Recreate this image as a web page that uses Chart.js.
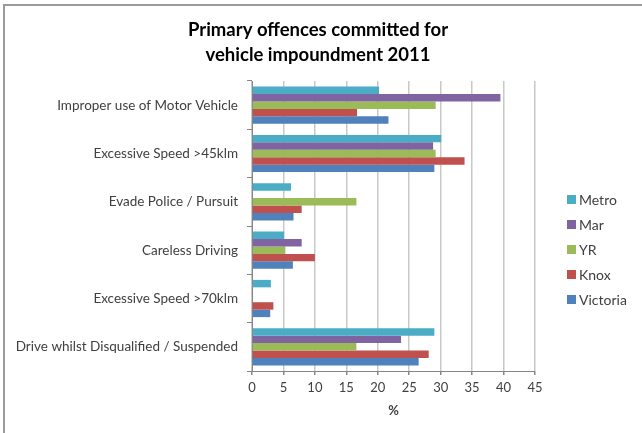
<!DOCTYPE html>
<html>
<head>
<meta charset="utf-8">
<script src="https://cdn.jsdelivr.net/npm/chart.js@4"></script>
<style>
  body { margin: 0; background: #fff; }
  #wrap { width: 642px; height: 433px; }
</style>
</head>
<body>
<div id="wrap"><canvas id="chart" width="642" height="433"></canvas></div>
<script>
// data (percent)
const categories = [
  "Improper use of Motor Vehicle",
  "Excessive Speed >45klm",
  "Evade Police / Pursuit",
  "Careless Driving",
  "Excessive Speed >70klm",
  "Drive whilst Disqualified / Suspended"
]
const metro    = [20.2, 30.1, 6.2, 5.1, 3.0, 29.0]
const mar      = [39.5, 28.8, 0, 7.9, 0, 23.7]
const yr       = [29.2, 29.2, 16.6, 5.3, 0, 16.6]
const knox     = [16.7, 33.8, 7.9, 10.0, 3.4, 28.1]
const victoria = [21.7, 29.0, 6.6, 6.5, 2.9, 26.5]
const seriesNames = ["Metro", "Mar", "YR", "Knox", "Victoria"]
const seriesColors = ["#4BACC6", "#8064A2", "#9BBB59", "#C0504D", "#4F81BD"]
const titleLines = ["Primary offences committed for", "vehicle impoundment 2011"]

const FONT = "Lato, 'Open Sans', sans-serif"

// white background, frame lines, title and legend
const decor = {
  id: 'decor',
  beforeDraw(c) {
    const ctx = c.ctx
    ctx.save()
    ctx.fillStyle = '#fff'
    ctx.fillRect(0, 0, c.width, c.height)
    ctx.strokeStyle = '#9a9a9a'
    ctx.lineWidth = 2
    ctx.beginPath()
    ctx.moveTo(4, 433)
    ctx.lineTo(4, 5)
    ctx.lineTo(642, 5)
    ctx.stroke()
    ctx.restore()
  },
  afterDraw(c) {
    const ctx = c.ctx
    ctx.save()
    ctx.fillStyle = '#000'
    ctx.font = 'bold 18.5px ' + FONT
    ctx.textAlign = 'center'
    ctx.textBaseline = 'middle'
    titleLines.forEach((t, i) => ctx.fillText(t, 318, 30 + i * 25))
    ctx.font = '14px ' + FONT
    ctx.textAlign = 'left'
    c.data.datasets.forEach((ds, i) => {
      const y = 200 + i * 25
      ctx.fillStyle = ds.backgroundColor
      ctx.fillRect(567, y - 5, 9, 9)
      ctx.fillStyle = '#404040'
      ctx.fillText(ds.label, 579, y)
    })
    ctx.restore()
  }
}

const ctx = document.getElementById('chart').getContext('2d')
const values = [metro, mar, yr, knox, victoria]
const chart = new Chart(ctx, {
  type: 'bar',
  data: {
    labels: categories,
    datasets: seriesNames.map((name, i) => ({
      label: name,
      data: values[i],
      backgroundColor: seriesColors[i],
      borderWidth: 0,
      categoryPercentage: 0.77,
      barPercentage: 1
    }))
  },
  options: {
    indexAxis: 'y',
    responsive: false,
    animation: false,
    layout: { padding: { top: 81, right: 107, left: 0, bottom: 14 } },
    plugins: {
      legend: { display: false },
      title: { display: false },
      tooltip: { enabled: false }
    },
    scales: {
      x: {
        min: 0,
        max: 45,
        afterFit: s => { s.height = 48 },
        ticks: { stepSize: 5, color: '#404040', font: { family: FONT, size: 13 }, padding: 5 },
        grid: { color: '#c8c8c8', lineWidth: 1.5, tickLength: 4, tickColor: '#868686' },
        border: { color: '#868686', width: 1 },
        title: { display: true, text: '%', color: '#404040', font: { family: FONT, size: 13, weight: 'bold' }, padding: 0 }
      },
      y: {
        afterFit: s => { s.width = 252 },
        ticks: { color: '#404040', font: { family: FONT, size: 13.5 }, padding: 9 },
        grid: { drawOnChartArea: false, tickLength: 5, color: '#868686' },
        border: { color: '#868686', width: 1 }
      }
    }
  },
  plugins: [decor]
})
</script>
</body>
</html>
